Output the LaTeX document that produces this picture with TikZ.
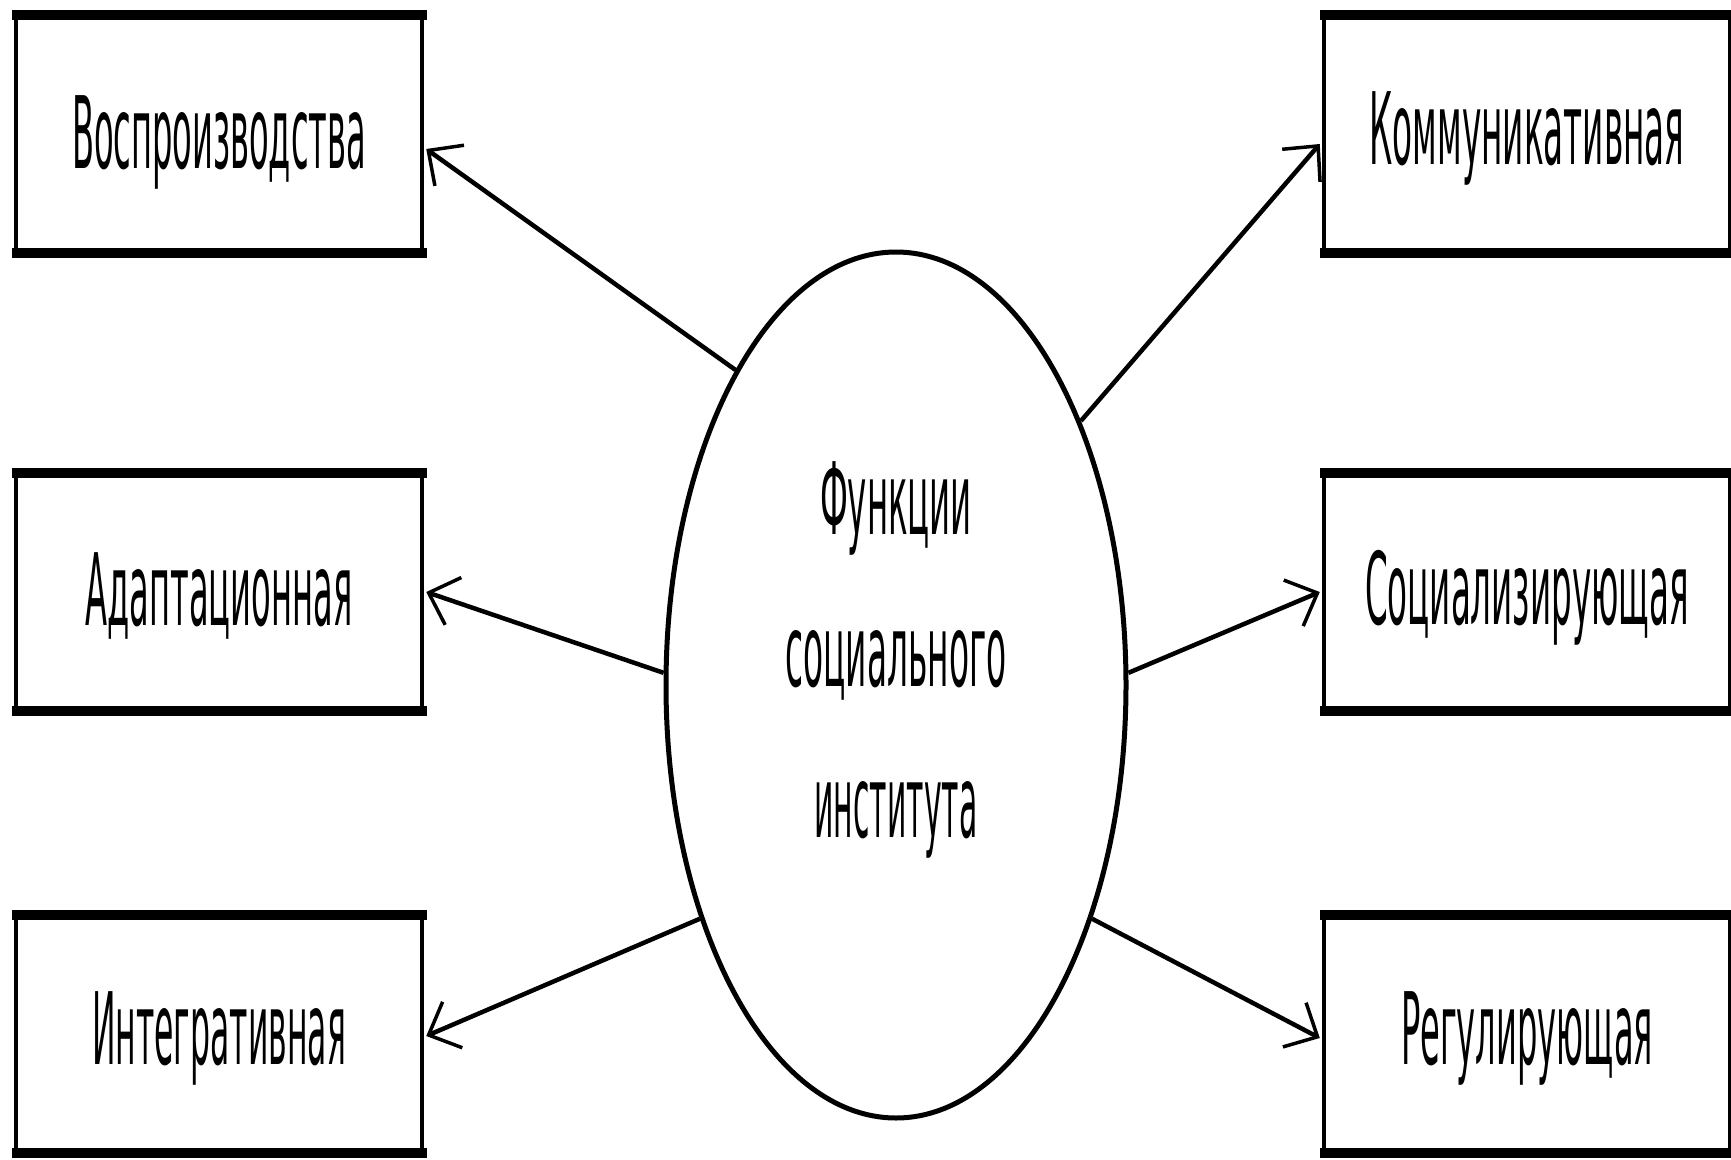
\documentclass[tikz,border=0pt]{standalone}
\usepackage{fontspec}
\usepackage{graphicx}
\setmainfont{DejaVu Sans}
\usetikzlibrary{shapes.geometric,arrows.meta,calc}
\newcommand\sqz[2]{\resizebox{#1pt}{\height}{#2}}
\tikzset{
  fbox/.style={draw, line width=4.5pt, minimum width=406pt, minimum height=234pt, inner sep=0pt},
  lbl/.style={inner sep=0pt, font=\fontsize{100}{110}\selectfont},
  conn/.style={line width=4.5pt, -{Straight Barb[length=26pt,width=50pt,line width=3.5pt]}},
  thick edge/.style={line width=10pt, line cap=butt, shorten <=-2.25pt, shorten >=-2.25pt}
}
\begin{document}
\begin{tikzpicture}[x=1pt,y=-1pt]
\useasboundingbox (0,0) rectangle (1731,1159);
\fill[white] (0,0) rectangle (1731,1159);
% boxes
\node[fbox] (b1) at (219,134) {};
\node[fbox] (b2) at (219,592) {};
\node[fbox] (b3) at (219,1034) {};
\node[fbox] (b4) at (1527,134) {};
\node[fbox] (b5) at (1527,592) {};
\node[fbox] (b6) at (1527,1034) {};
\foreach \b in {b1,b2,b3,b4,b5,b6}{
  \draw[thick edge] (\b.north west) -- (\b.north east);
  \draw[thick edge] (\b.south west) -- (\b.south east);
}
\node[lbl] (l1) at ($(b1.center)+(0,8)$) {\sqz{294}{Воспроизводства}};
\node[lbl] (l2) at ($(b2.center)+(0,4)$) {\sqz{267}{Адаптационная}};
\node[lbl] (l3) at ($(b3.center)+(0,4)$) {\sqz{254}{Интегративная}};
\node[lbl] (l4) at ($(b4.center)+(0,4)$) {\sqz{315}{Коммуникативная}};
\node[lbl] (l5) at ($(b5.center)+(0,6)$) {\sqz{324}{Социализирующая}};
\node[lbl] (l6) at ($(b6.center)+(0,4)$) {\sqz{252}{Регулирующая}};
% ellipse
\node[ellipse, draw, line width=5pt, minimum width=460pt, minimum height=866pt, inner sep=0pt] (ell) at (896,685) {};
\node[lbl] (t1) at (896,508) {\sqz{152}{Функции}};
\node[lbl] (t2) at (896,665) {\sqz{221}{социального}};
\node[lbl] (t3) at (896,820) {\sqz{163}{института}};
% connectors
\draw[conn] (ell.117) -- ($(b1.east)+(2,15)$);
\draw[conn] (ell.177) -- ($(b2.east)+(2,0)$);
\draw[conn] (ell.230) -- ($(b3.east)+(2,2)$);
\draw[conn] (ell.55) -- ($(b4.west)+(-2,10)$);
\draw[conn] (ell.3.5) -- ($(b5.west)+(-2,0)$);
\draw[conn] (ell.-50.7) -- ($(b6.west)+(-2,4)$);
\end{tikzpicture}
\end{document}
